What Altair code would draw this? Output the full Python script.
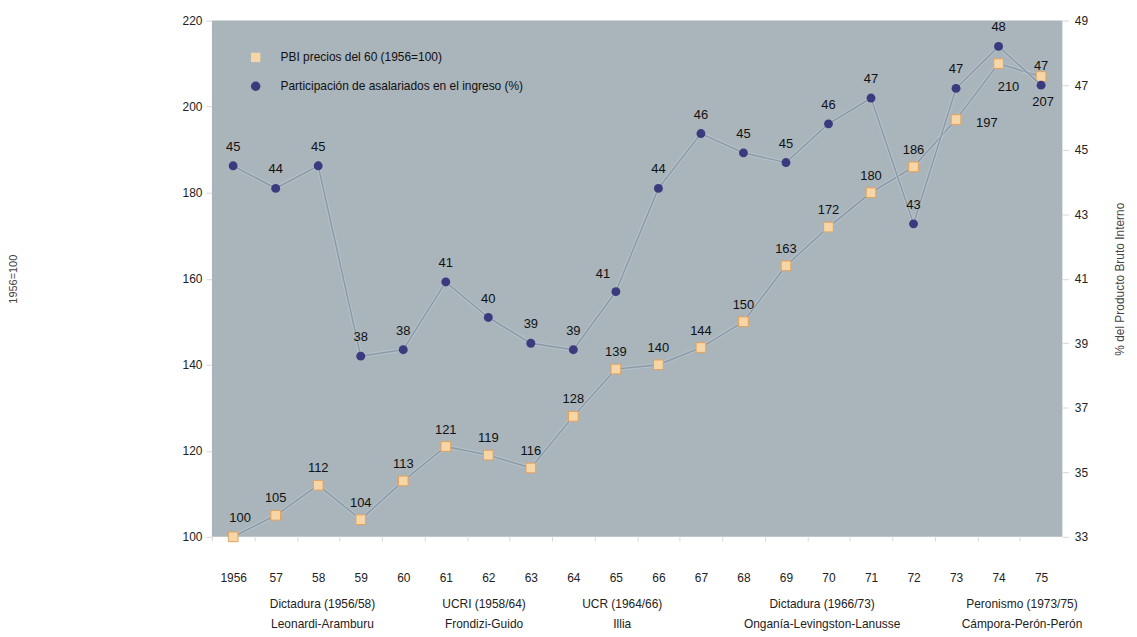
import altair as alt
import pandas as pd

# ---------------- data ----------------
years = list(range(1956, 1976))
year_labels = ["1956", "57", "58", "59", "60", "61", "62", "63", "64", "65",
               "66", "67", "68", "69", "70", "71", "72", "73", "74", "75"]

pbi = [100, 105, 112, 104, 113, 121, 119, 116, 128, 139,
       140, 144, 150, 163, 172, 180, 186, 197, 210, 207]
pbi_label_pos = ["ne", "n", "n", "n", "n", "n", "n", "n", "n", "n",
                 "n", "n", "n", "n", "n", "n", "n", "e", "se", "s"]

asal = [44.5, 43.8, 44.5, 38.6, 38.8, 40.9, 39.8, 39.0, 38.8, 40.6,
        43.8, 45.5, 44.9, 44.6, 45.8, 46.6, 42.7, 46.9, 48.2, 47.0]
asal_labels = [45, 44, 45, 38, 38, 41, 40, 39, 39, 41,
               44, 46, 45, 45, 46, 47, 43, 47, 48, 47]
asal_label_pos = ["n", "n", "n", "n", "n", "n", "n", "n", "n", "nw",
                  "n", "n", "n", "n", "n", "n", "n", "n", "n", "n"]

period_line1 = ["Dictadura (1956/58)", "UCRI (1958/64)", "UCR (1964/66)",
                "Dictadura (1966/73)", "Peronismo (1973/75)"]
period_line2 = ["Leonardi-Aramburu", "Frondizi-Guido", "Illia",
                "Onganía-Levingston-Lanusse", "Cámpora-Perón-Perón"]
period_center = [1958.1, 1961.9, 1965.15, 1969.85, 1974.55]

PBI_NAME = "PBI precios del 60 (1956=100)"
ASAL_NAME = "Participación de asalariados en el ingreso (%)"

df = pd.DataFrame({
    "year": years,
    "pbi": pbi,
    "pbi_lab": [str(v) for v in pbi],
    "pbi_pos": pbi_label_pos,
    "asal": asal,
    "asal_lab": [str(v) for v in asal_labels],
    "asal_pos": asal_label_pos,
})
df_periods = pd.DataFrame({
    "center": period_center,
    "text": [a + "\n" + b for a, b in zip(period_line1, period_line2)],
})

# ---------------- layout ----------------
W, H = 855, 519
step = W / len(years)
FONT = "Liberation Sans"
LINE_COL = "#8c99a3"
HALO_COL = "#c3d5e6"
SQ_FILL = "#f6d6a6"
SQ_STROKE = "#e2a15c"
CIRC_FILL = "#3b3a7e"
X_DOMAIN = [years[0] - 0.5, years[-1] + 0.5]

label_js = "[" + ",".join("'" + s + "'" for s in year_labels) + "]"
x_axis = alt.Axis(
    values=years,
    labelExpr=label_js + "[datum.value - " + str(years[0]) + "]",
    title=None, grid=False, domain=False,
    ticks=True, tickSize=4, tickColor="#d6d6d6",
    tickOffset=-step / 2, labelOffset=step / 2,
    labelPadding=32, labelFontSize=12, labelColor="#222",
)
x_enc = alt.X("year:Q", scale=alt.Scale(domain=X_DOMAIN, nice=False, zero=False),
              axis=x_axis)

left_axis = alt.Axis(
    values=[100, 120, 140, 160, 180, 200, 220], grid=False, domain=False,
    ticks=True, tickSize=6, tickColor="#d6d6d6", labelPadding=4,
    labelFontSize=12, labelColor="#222",
    title="1956=100", titleX=-194, titleFontSize=11, titleFontWeight="normal",
    titleColor="#444",
)
right_axis = alt.Axis(
    orient="right", values=[33, 35, 37, 39, 41, 43, 45, 47, 49], grid=False,
    domain=False, ticks=True, tickSize=6, tickColor="#d6d6d6", labelPadding=6,
    labelFontSize=12, labelColor="#222",
    title="% del Producto Bruto Interno", titleAngle=270, titleX=57,
    titleBaseline="middle", titleFontSize=12, titleFontWeight="normal",
    titleColor="#444",
)
y_left = alt.Y("pbi:Q", scale=alt.Scale(domain=[100, 220], nice=False, zero=False),
               axis=left_axis)
y_right = alt.Y("asal:Q", scale=alt.Scale(domain=[33, 49], nice=False, zero=False),
                axis=right_axis)

color_scale = alt.Scale(domain=[PBI_NAME, ASAL_NAME], range=[SQ_FILL, CIRC_FILL])
shape_scale = alt.Scale(domain=[PBI_NAME, ASAL_NAME], range=["square", "circle"])
legend = alt.Legend(
    title=None, orient="none", legendX=38, legendY=31, padding=0,
    labelFontSize=12, labelColor="#111", labelFont=FONT, labelLimit=0,
    symbolSize=90, rowPadding=17, labelOffset=19,
    symbolStrokeWidth=0,
)

base = alt.Chart(df)

# ---- PBI (left axis) ----
pbi_halo = base.mark_line(color=HALO_COL, strokeWidth=4, opacity=0.35).encode(x=x_enc, y=y_left)
pbi_line = base.mark_line(color=LINE_COL, strokeWidth=1.4).encode(x=x_enc, y=y_left)
pbi_pts = base.mark_point(filled=True, size=95, opacity=1, stroke=SQ_STROKE, strokeWidth=1).encode(
    x=x_enc, y=y_left,
    color=alt.Color("s:N", scale=color_scale, legend=legend),
    shape=alt.Shape("s:N", scale=shape_scale, legend=legend),
).transform_calculate(s="'" + PBI_NAME + "'")

pbi_off = {"n": (0, -17), "ne": (7, -19), "e": (31, 3), "se": (10, 24), "s": (2, 26), "nw": (-12, -17)}
pbi_texts = []
for code in sorted(set(pbi_label_pos)):
    dx, dy = pbi_off[code]
    pbi_texts.append(
        base.transform_filter(alt.datum.pbi_pos == code)
        .mark_text(dx=dx, dy=dy, fontSize=13, color="#111", font=FONT)
        .encode(x=x_enc, y=y_left, text="pbi_lab:N")
    )

left = alt.layer(pbi_halo, pbi_line, pbi_pts, *pbi_texts)

# ---- asalariados (right axis) ----
as_halo = base.mark_line(color=HALO_COL, strokeWidth=4, opacity=0.35).encode(x=x_enc, y=y_right)
as_line = base.mark_line(color=LINE_COL, strokeWidth=1.4).encode(x=x_enc, y=y_right)
as_pts = base.mark_point(filled=True, size=80, opacity=1).encode(
    x=x_enc, y=y_right,
    color=alt.Color("s:N", scale=color_scale, legend=legend),
    shape=alt.Shape("s:N", scale=shape_scale, legend=legend),
).transform_calculate(s="'" + ASAL_NAME + "'")

as_off = {"n": (0, -19), "nw": (-13, -18)}
as_texts = []
for code in sorted(set(asal_label_pos)):
    dx, dy = as_off[code]
    as_texts.append(
        base.transform_filter(alt.datum.asal_pos == code)
        .mark_text(dx=dx, dy=dy, fontSize=13, color="#111", font=FONT)
        .encode(x=x_enc, y=y_right, text="asal_lab:N")
    )

right = alt.layer(as_halo, as_line, as_pts, *as_texts)

# ---- period annotations under the axis ----
periods = alt.Chart(df_periods).mark_text(
    lineBreak="\n", baseline="top", align="center", fontSize=12, lineHeight=20,
    color="#222", font=FONT,
).encode(
    x=alt.X("center:Q", scale=alt.Scale(domain=X_DOMAIN, nice=False, zero=False), axis=x_axis),
    y=alt.value(H + 63),
    text="text:N",
)

chart = (
    alt.layer(left, right, periods)
    .resolve_scale(y="independent")
    .properties(width=W, height=H, padding={"left": 0, "top": 5, "right": 4, "bottom": 0})
    .configure(font=FONT, background="white")
    .configure_view(fill="#a9b4bb", strokeWidth=0)
)

chart.save("out.html", embed_options={"renderer": "svg", "actions": False})
